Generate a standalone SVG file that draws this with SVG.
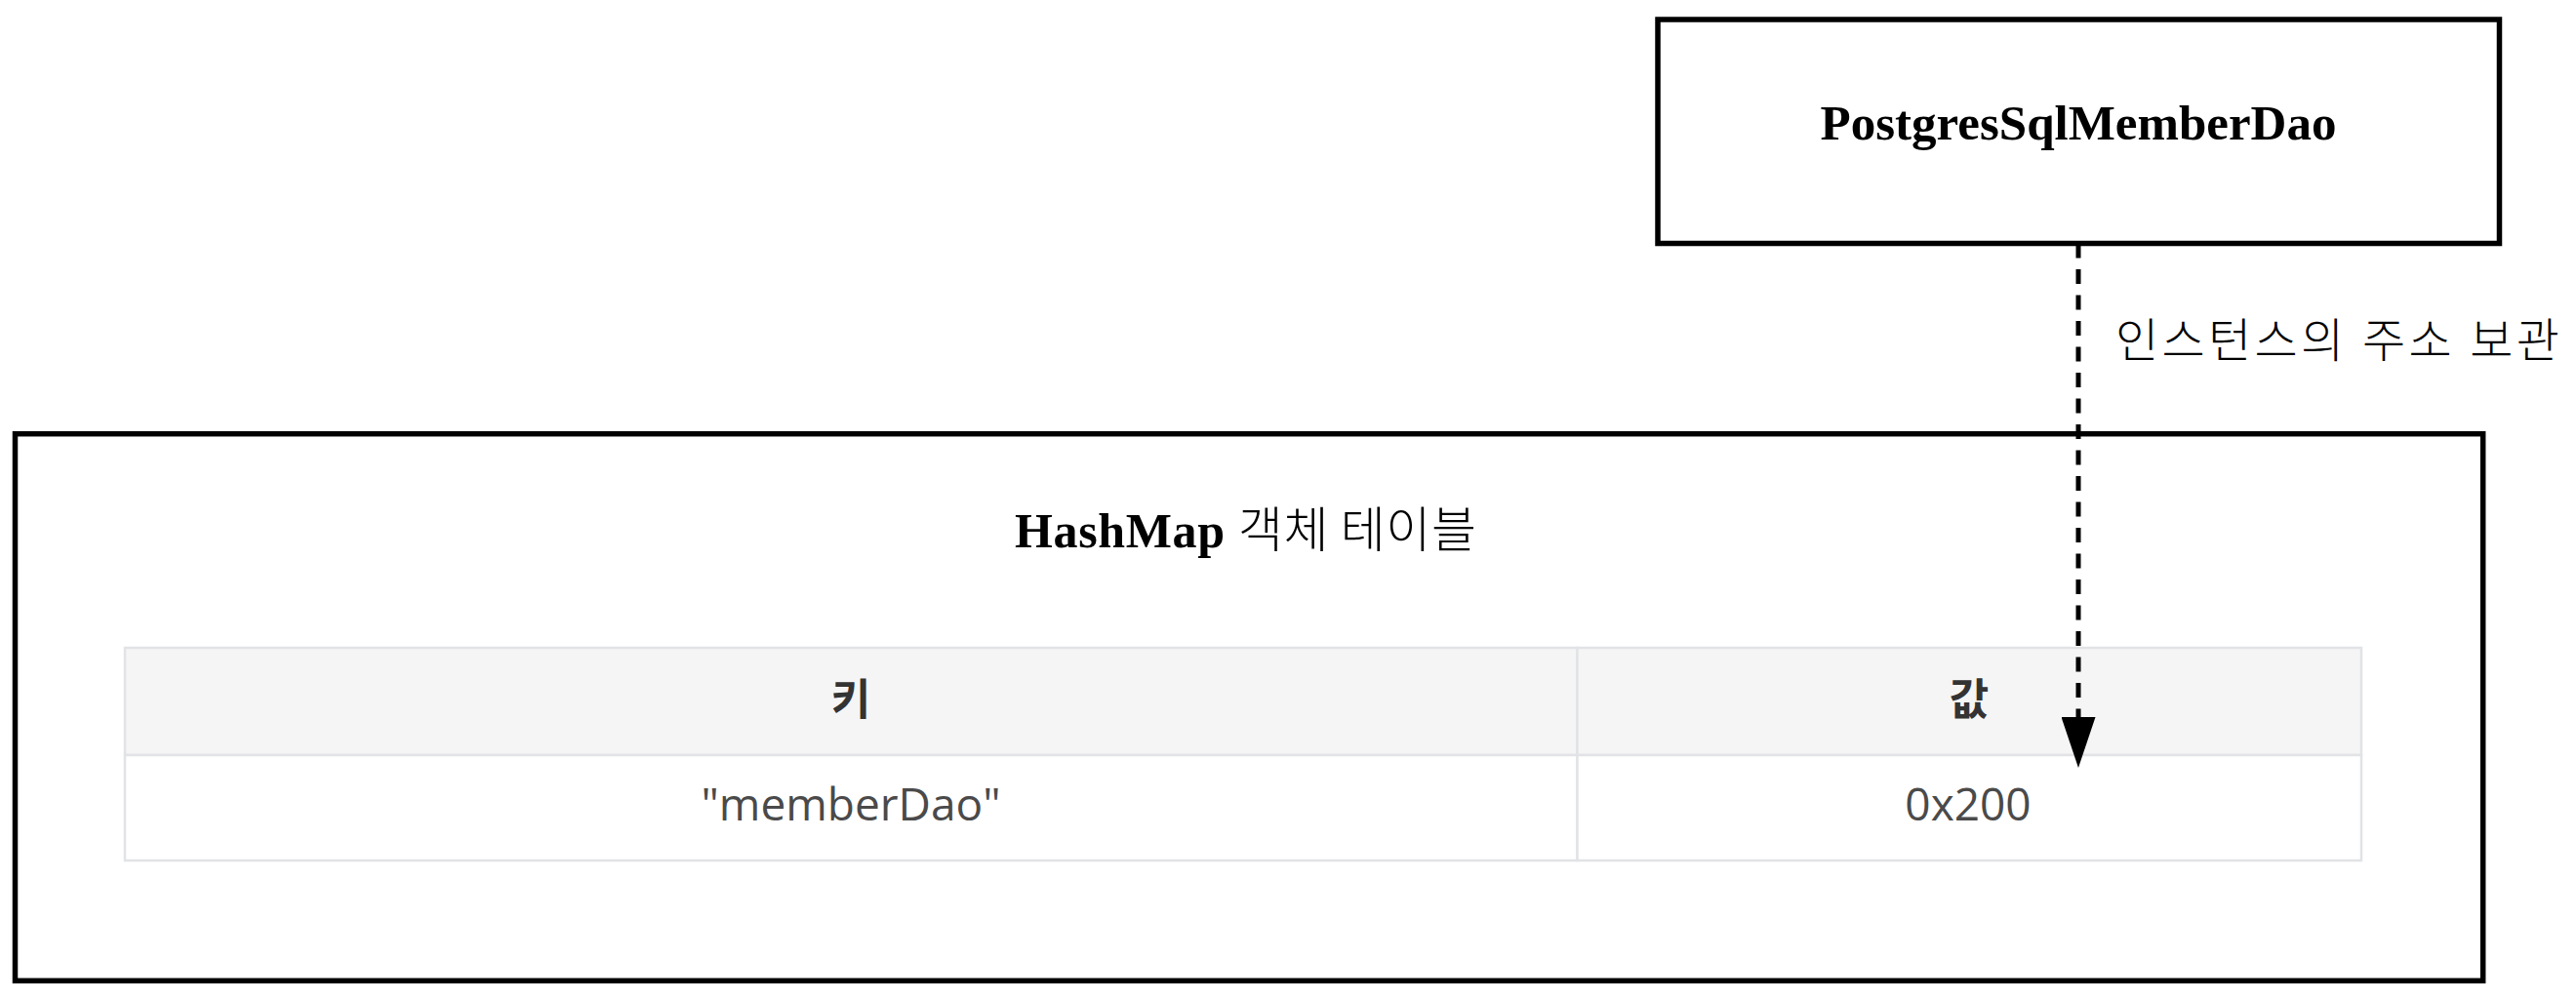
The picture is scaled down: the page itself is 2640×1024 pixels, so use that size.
<svg xmlns="http://www.w3.org/2000/svg" width="2640" height="1024" viewBox="0 0 2640 1024">
  <style>
    .box { fill: #ffffff; stroke: #000000; stroke-width: 5.5; }
    .serifb { font-family: "Liberation Serif", "Noto Sans CJK KR", serif; font-weight: bold; fill: #000000; }
    .kr { font-family: "Noto Sans CJK KR", "Liberation Sans", sans-serif; font-weight: 300; }
    .label { font-family: "Liberation Serif", "Noto Sans CJK KR", serif; font-size: 48px; font-weight: 300; fill: #000000; }
    .cell { stroke: #e1e3e6; stroke-width: 2.5; }
    .head { fill: #f5f5f5; }
    .body { fill: #ffffff; }
    .th { font-family: "Noto Sans CJK KR", "Open Sans", sans-serif; font-size: 44px; font-weight: bold; fill: #333333; text-anchor: middle; }
    .td { font-family: "Open Sans", "Noto Sans CJK KR", sans-serif; font-size: 46px; fill: #4a4a4a; text-anchor: middle; }
    .conn { fill: none; stroke: #000000; stroke-width: 5; stroke-dasharray: 15 11.5; }
  </style>
  <defs>
    <marker id="arrow" markerUnits="userSpaceOnUse" markerWidth="52" markerHeight="35" viewBox="0 0 52 35" refX="0" refY="17.5" orient="auto">
      <path d="M0,0 L52,17.5 L0,35 Z" fill="#000000" stroke="none"/>
    </marker>
  </defs>

  <rect width="2640" height="1024" fill="#ffffff"/>

  <g id="hashmap-table">
    <rect class="box" x="15.5" y="444.7" width="2529.2" height="560.6"/>
    <text class="serifb" x="1040" y="561" font-size="50" textLength="473" lengthAdjust="spacing">HashMap <tspan class="kr">객체 테이블</tspan></text>
    <g id="table">
      <rect class="cell head" x="128" y="664" width="1488.5" height="110"/>
      <rect class="cell head" x="1616.5" y="664" width="803.5" height="110"/>
      <rect class="cell body" x="128" y="774" width="1488.5" height="108"/>
      <rect class="cell body" x="1616.5" y="774" width="803.5" height="108"/>
      <text class="th" x="872" y="733">키</text>
      <text class="th" x="2018" y="733">값</text>
      <text class="td" x="872" y="841">"memberDao"</text>
      <text class="td" x="2017" y="841">0x200</text>
    </g>
  </g>

  <g id="postgres-dao">
    <rect class="box" x="1699" y="20" width="862.5" height="229.5"/>
    <text class="serifb" x="2130" y="143" font-size="51" text-anchor="middle">PostgresSqlMemberDao</text>
  </g>

  <g id="connectors">
    <line class="conn" x1="2130" y1="249.5" x2="2130" y2="735" marker-end="url(#arrow)"/>
    <text class="label" x="2168" y="366" textLength="455" lengthAdjust="spacing">인스턴스의 주소 보관</text>
  </g>
</svg>
